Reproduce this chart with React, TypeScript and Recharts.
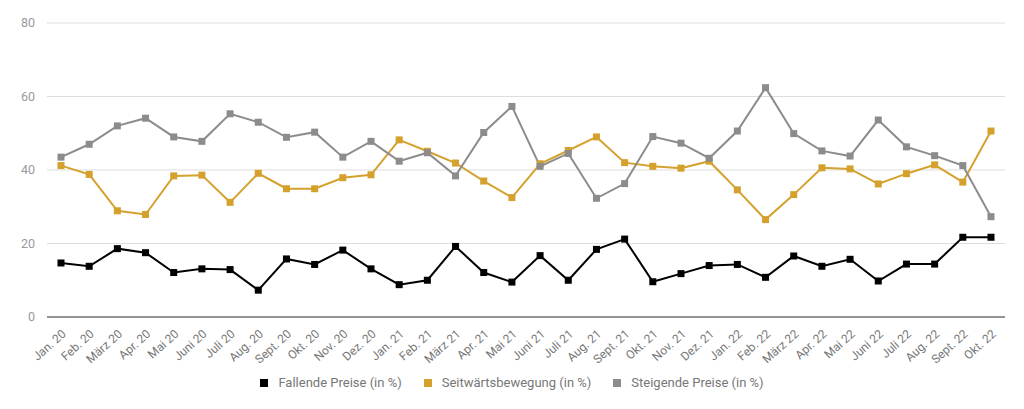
import { LineChart, Line, XAxis, YAxis, CartesianGrid, Legend } from "recharts";

const months = [
  "Jan. 20", "Feb. 20", "März 20", "Apr. 20", "Mai 20", "Juni 20", "Juli 20", "Aug. 20", "Sept. 20", "Okt. 20", "Nov. 20", "Dez. 20",
  "Jan. 21", "Feb. 21", "März 21", "Apr. 21", "Mai 21", "Juni 21", "Juli 21", "Aug. 21", "Sept. 21", "Okt. 21", "Nov. 21", "Dez. 21",
  "Jan. 22", "Feb. 22", "März 22", "Apr. 22", "Mai 22", "Juni 22", "Juli 22", "Aug. 22", "Sept. 22", "Okt. 22",
];

const fallende = [
  14.7, 13.8, 18.6, 17.5, 12.1, 13.1, 12.9, 7.3, 15.8, 14.3, 18.2, 13.1,
  8.8, 10.0, 19.2, 12.1, 9.5, 16.7, 10.0, 18.4, 21.2, 9.6, 11.8, 14.0,
  14.3, 10.8, 16.6, 13.8, 15.7, 9.8, 14.4, 14.4, 21.7, 21.7,
];

const seitwaerts = [
  41.2, 38.8, 28.9, 27.9, 38.4, 38.6, 31.2, 39.1, 34.9, 34.9, 37.9, 38.7,
  48.2, 45.1, 41.9, 37.0, 32.5, 41.7, 45.3, 49.0, 42.0, 41.0, 40.5, 42.4,
  34.6, 26.5, 33.3, 40.6, 40.3, 36.2, 39.0, 41.4, 36.7, 50.6,
];

const steigende = [
  43.5, 47.0, 52.0, 54.1, 49.0, 47.8, 55.3, 53.0, 48.9, 50.3, 43.5, 47.8,
  42.4, 44.7, 38.4, 50.2, 57.3, 41.0, 44.5, 32.3, 36.3, 49.1, 47.3, 43.2,
  50.6, 62.4, 49.9, 45.2, 43.8, 53.6, 46.3, 43.9, 41.2, 27.3,
];

const yTicks = [0, 20, 40, 60, 80];

const series = [
  { key: "fallende", name: "Fallende Preise (in %)", color: "#000000" },
  { key: "seitwaerts", name: "Seitwärtsbewegung (in %)", color: "#d4a12c" },
  { key: "steigende", name: "Steigende Preise (in %)", color: "#8c8c8c" },
];

const data = months.map((m, i) => ({
  month: m,
  fallende: fallende[i],
  seitwaerts: seitwaerts[i],
  steigende: steigende[i],
}));

const squareDot = (color: string) => (props: any) => {
  const { cx, cy, index } = props;
  if (cx == null || cy == null) return <g key={index} />;
  return <rect key={index} x={cx - 3.5} y={cy - 3.5} width={7} height={7} fill={color} />;
};

const MonthTick = (props: any) => {
  const { x, y, payload } = props;
  return (
    <g transform={`translate(${x + 3},${y})`}>
      <text
        textAnchor="end"
        transform="rotate(-42)"
        dy={4}
        fontSize={12}
        fill="#777"
      >
        {payload.value}
      </text>
    </g>
  );
};

const LegendContent = () => (
  <div style={{ display: "flex", justifyContent: "center", gap: 22, fontSize: 13, color: "#777" }}>
    {series.map((s) => (
      <div key={s.key} style={{ display: "flex", alignItems: "center" }}>
        <span style={{ display: "inline-block", width: 8, height: 8, background: s.color, marginRight: 10 }} />
        {s.name}
      </div>
    ))}
  </div>
);

export default function App() {
  return (
    <div style={{ position: "absolute", left: 0, top: 0, width: 1024, height: 409, background: "#fff", fontFamily: "Roboto, sans-serif" }}>
      <LineChart width={1024} height={409} data={data} margin={{ top: 23, right: 19, left: 0, bottom: 17 }}>
        <CartesianGrid vertical={false} stroke="#dddddd" />
        <XAxis
          dataKey="month"
          interval={0}
          tickLine={false}
          axisLine={{ stroke: "#777", strokeWidth: 1.5 }}
          tick={<MonthTick />}
          tickMargin={9}
          height={60}
          padding={{ left: 14, right: 14 }}
        />
        <YAxis
          domain={[0, 80]}
          ticks={yTicks}
          width={47}
          axisLine={false}
          tickLine={false}
          tick={{ fill: "#999", fontSize: 12.5 }}
          tickMargin={6}
        />
        <Legend
          verticalAlign="bottom"
          content={<LegendContent />}
          wrapperStyle={{ top: 375, left: 0, width: 1024 }}
        />
        {series.map((s) => (
          <Line
            key={s.key}
            type="linear"
            dataKey={s.key}
            name={s.name}
            stroke={s.color}
            strokeWidth={2}
            dot={squareDot(s.color)}
            activeDot={false}
            isAnimationActive={false}
          />
        ))}
      </LineChart>
    </div>
  );
}
